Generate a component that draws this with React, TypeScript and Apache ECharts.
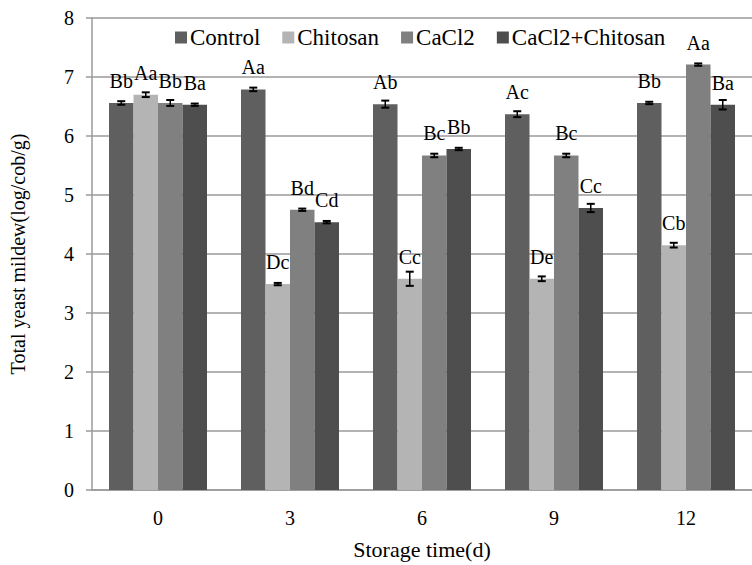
import React, { useEffect, useRef } from "react";
import * as echarts from "echarts";

const categories = ["0", "3", "6", "9", "12"];
const seriesNames = ["Control", "Chitosan", "CaCl2", "CaCl2+Chitosan"];
const control = [6.56, 6.79, 6.54, 6.37, 6.56];
const chitosan = [6.7, 3.49, 3.58, 3.58, 4.15];
const cacl2 = [6.56, 4.75, 5.67, 5.67, 7.21];
const cacl2Chitosan = [6.53, 4.54, 5.78, 4.78, 6.53];
const controlErr = [0.03, 0.03, 0.06, 0.05, 0.02];
const chitosanErr = [0.04, 0.02, 0.12, 0.04, 0.04];
const cacl2Err = [0.05, 0.02, 0.03, 0.03, 0.02];
const cacl2ChitosanErr = [0.02, 0.02, 0.02, 0.07, 0.08];
const controlLabels = ["Bb", "Aa", "Ab", "Ac", "Bb"];
const chitosanLabels = ["Aa", "Dc", "Cc", "De", "Cb"];
const cacl2Labels = ["Bb", "Bd", "Bc", "Bc", "Aa"];
const cacl2ChitosanLabels = ["Ba", "Cd", "Bb", "Cc", "Ba"];
const yTicks = [0, 1, 2, 3, 4, 5, 6, 7, 8];

const colors = ["#5f5f5f", "#b4b4b4", "#808080", "#4e4e4e"];
const FONT = "Liberation Serif";
const BAR_W = 24.5;

export default function App() {
  const ref = useRef<HTMLDivElement>(null);
  useEffect(() => {
    if (!ref.current) return;
    const chart = echarts.init(ref.current, undefined, { renderer: "svg" });
    const values = [control, chitosan, cacl2, cacl2Chitosan];
    const errs = [controlErr, chitosanErr, cacl2Err, cacl2ChitosanErr];
    const labels = [controlLabels, chitosanLabels, cacl2Labels, cacl2ChitosanLabels];

    const barSeries = seriesNames.map((name, k) => ({
      name,
      type: "bar",
      barWidth: BAR_W,
      barGap: "0%",
      itemStyle: { color: colors[k] },
      data: values[k].map((v, i) => ({
        value: v,
        label: { formatter: labels[k][i] },
      })),
      label: {
        show: true,
        position: "top",
        distance: 12,
        color: "#000",
        fontFamily: FONT,
        fontSize: 20,
      },
      z: 2,
    }));

    const errSeries = seriesNames.map((name, k) => ({
      name: name + "-err",
      type: "custom",
      z: 5,
      silent: true,
      data: values[k].map((v, i) => [i, v, errs[k][i]]),
      renderItem: (params: any, api: any) => {
        const cat = api.value(0);
        const v = api.value(1);
        const e = api.value(2);
        const top = api.coord([cat, v + e]);
        const bot = api.coord([cat, v - e]);
        const x = top[0] + (k - 1.5) * BAR_W;
        const cap = 4;
        return {
          type: "group",
          children: [
            { type: "line", shape: { x1: x, y1: top[1], x2: x, y2: bot[1] }, style: { stroke: "#000", lineWidth: 1.5 } },
            { type: "line", shape: { x1: x - cap, y1: top[1], x2: x + cap, y2: top[1] }, style: { stroke: "#000", lineWidth: 2 } },
            { type: "line", shape: { x1: x - cap, y1: bot[1], x2: x + cap, y2: bot[1] }, style: { stroke: "#000", lineWidth: 2 } },
          ],
        };
      },
    }));

    chart.setOption({
      animation: false,
      backgroundColor: "#fff",
      textStyle: { fontFamily: FONT },
      legend: {
        data: seriesNames,
        left: 170,
        top: 21,
        icon: "rect",
        itemWidth: 12,
        itemHeight: 12,
        itemGap: 22,
        textStyle: { fontFamily: FONT, fontSize: 23, color: "#000", padding: [0, 0, 0, -2] },
      },
      grid: { left: 91, top: 18, width: 675, height: 474.5, containLabel: false },
      xAxis: {
        type: "category",
        data: categories,
        name: "Storage time(d)",
        nameLocation: "middle",
        nameGap: 48,
        nameTextStyle: { fontFamily: FONT, fontSize: 22, color: "#000" },
        axisLine: { lineStyle: { color: "#9a9a9a", width: 1.5 } },
        axisTick: { show: false },
        axisLabel: { color: "#000", fontFamily: FONT, fontSize: 20, margin: 18 },
      },
      yAxis: {
        type: "value",
        min: yTicks[0],
        max: yTicks[yTicks.length - 1],
        interval: 1,
        name: "Total yeast mildew(log/cob/g)",
        nameLocation: "middle",
        nameGap: 64,
        nameTextStyle: { fontFamily: FONT, fontSize: 20, color: "#000" },
        axisLine: { show: true, lineStyle: { color: "#9a9a9a", width: 1.5 } },
        axisTick: { show: true, length: 6, lineStyle: { color: "#9a9a9a", width: 1.5 } },
        axisLabel: { color: "#000", fontFamily: FONT, fontSize: 20, margin: 18 },
        splitLine: { lineStyle: { color: "#9a9a9a", width: 1.5 } },
      },
      series: [...barSeries, ...errSeries],
    });
    return () => chart.dispose();
  }, []);
  return (
    <div
      ref={ref}
      style={{ position: "fixed", left: 0, top: 0, width: 752, height: 565 }}
    />
  );
}
